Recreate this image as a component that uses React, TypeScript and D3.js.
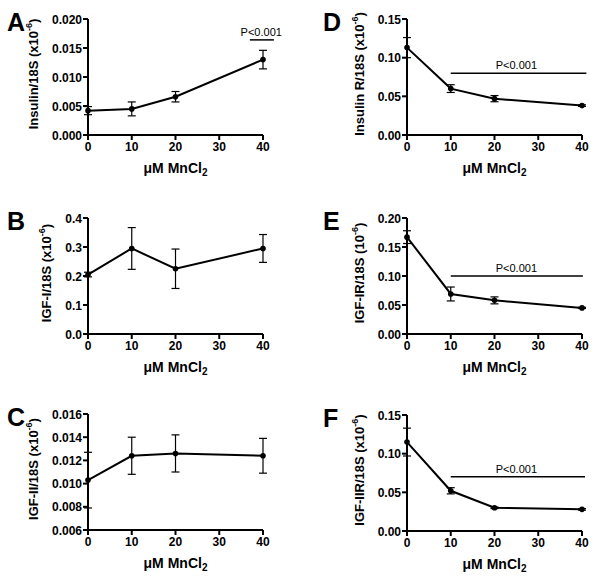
import React, { useEffect, useRef } from 'react';
import * as d3 from 'd3';

// MnCl2 doses (µM)
const doses = [0, 10, 20, 40];
const xTicks = [0, 10, 20, 30, 40];

const insulinMean = [0.0042, 0.0045, 0.0066, 0.013];
const insulinErr = [0.0007, 0.0012, 0.0009, 0.0016];
const igf1Mean = [0.205, 0.295, 0.225, 0.295];
const igf1Err = [0.008, 0.072, 0.068, 0.048];
const igf2Mean = [0.0103, 0.0124, 0.0126, 0.0124];
const igf2Err = [0.0024, 0.0016, 0.0016, 0.0015];
const insRMean = [0.113, 0.06, 0.047, 0.038];
const insRErr = [0.013, 0.005, 0.004, 0.001];
const igf1rMean = [0.167, 0.069, 0.058, 0.045];
const igf1rErr = [0.011, 0.012, 0.006, 0.001];
const igf2rMean = [0.115, 0.052, 0.03, 0.028];
const igf2rErr = [0.018, 0.004, 0.001, 0.001];

const panels = [
  { letter: 'A', label: 'Insulin/18S (x10', sup: '-6', close: ')', mean: insulinMean, err: insulinErr,
    ticks: [0, 0.005, 0.01, 0.015, 0.02], fmt: '.3f', sig: { from: 37, to: 42.5, y: 0.0164, textX: 39.6 },
    left: 88, top: 19 },
  { letter: 'B', label: 'IGF-I/18S (x10', sup: '-6', close: ')', mean: igf1Mean, err: igf1Err,
    ticks: [0, 0.1, 0.2, 0.3, 0.4], fmt: '.1f', sig: null, left: 88, top: 218 },
  { letter: 'C', label: 'IGF-II/18S (x10', sup: '-6', close: ')', mean: igf2Mean, err: igf2Err,
    ticks: [0.006, 0.008, 0.01, 0.012, 0.014, 0.016], fmt: '.3f', sig: null, left: 88, top: 414 },
  { letter: 'D', label: 'Insulin R/18S (x10', sup: '-6', close: ')', mean: insRMean, err: insRErr,
    ticks: [0, 0.05, 0.1, 0.15], fmt: '.2f', sig: { from: 10, to: 41, y: 0.08, textX: 25 },
    left: 407, top: 19 },
  { letter: 'E', label: 'IGF-IR/18S (10', sup: '-6', close: ')', mean: igf1rMean, err: igf1rErr,
    ticks: [0, 0.05, 0.1, 0.15, 0.2], fmt: '.2f', sig: { from: 10, to: 40.2, y: 0.1, textX: 25 },
    left: 407, top: 218 },
  { letter: 'F', label: 'IGF-IIR/18S (x10', sup: '-6', close: ')', mean: igf2rMean, err: igf2rErr,
    ticks: [0, 0.05, 0.1, 0.15], fmt: '.2f', sig: { from: 10, to: 40.7, y: 0.07, textX: 25 },
    left: 407, top: 415 },
];

const W = 175;
const H = 116;
const FONT = 'Liberation Sans, Arial, sans-serif';

const App = () => {
  const svgRef = useRef<SVGSVGElement>(null);

  useEffect(() => {
    const svg = d3.select(svgRef.current);
    svg.selectAll('*').remove();

    panels.forEach((p) => {
      const g = svg.append('g').attr('transform', `translate(${p.left},${p.top})`);
      const x = d3.scaleLinear().domain([0, 40]).range([0, W]);
      const y = d3.scaleLinear()
        .domain([p.ticks[0], p.ticks[p.ticks.length - 1]])
        .range([H, 0]);
      const fmt = d3.format(p.fmt);

      // axes
      g.append('line').attr('x1', 0).attr('x2', 0).attr('y1', 0).attr('y2', H)
        .attr('stroke', '#000').attr('stroke-width', 2);
      g.append('line').attr('x1', 0).attr('x2', W).attr('y1', H).attr('y2', H)
        .attr('stroke', '#000').attr('stroke-width', 2);

      p.ticks.forEach((t) => {
        g.append('line').attr('x1', -5).attr('x2', 0).attr('y1', y(t)).attr('y2', y(t))
          .attr('stroke', '#000').attr('stroke-width', 2);
        g.append('text').attr('x', -6).attr('y', y(t) + 4.5)
          .attr('text-anchor', 'end').attr('font-family', FONT).attr('font-weight', 'bold')
          .attr('font-size', 12).text(fmt(t));
      });
      xTicks.forEach((t) => {
        g.append('line').attr('x1', x(t)).attr('x2', x(t)).attr('y1', H).attr('y2', H + 5)
          .attr('stroke', '#000').attr('stroke-width', 2);
        g.append('text').attr('x', x(t)).attr('y', H + 16)
          .attr('text-anchor', 'middle').attr('font-family', FONT).attr('font-weight', 'bold')
          .attr('font-size', 12).text(t);
      });

      // x title
      const xt = g.append('text').attr('x', W / 2).attr('y', H + 38)
        .attr('text-anchor', 'middle').attr('font-family', FONT).attr('font-weight', 'bold')
        .attr('font-size', 14);
      xt.append('tspan').text('\u03bcM MnCl');
      xt.append('tspan').attr('font-size', 10).attr('dy', 3).text('2');

      // y title
      const tickW = d3.max(p.ticks, (t) => fmt(t).length * 6.67 - 3.3) as number;
      const labX = -6 - tickW - 14;
      const yt = g.append('text')
        .attr('transform', `translate(${labX},${H / 2 - 3}) rotate(-90)`)
        .attr('text-anchor', 'middle').attr('font-family', FONT).attr('font-weight', 'bold')
        .attr('font-size', 13);
      yt.append('tspan').text(p.label);
      yt.append('tspan').attr('font-size', 9).attr('dy', -6).text(p.sup);
      yt.append('tspan').attr('dy', 6).text(p.close);

      // panel letter
      svg.append('text').attr('x', p.left < 200 ? 7 : 323).attr('y', p.top + 12)
        .attr('font-family', FONT).attr('font-weight', 'bold').attr('font-size', 25)
        .text(p.letter);

      // significance bar
      if (p.sig) {
        g.append('line').attr('x1', x(p.sig.from)).attr('x2', x(p.sig.to))
          .attr('y1', y(p.sig.y)).attr('y2', y(p.sig.y))
          .attr('stroke', '#000').attr('stroke-width', 1.5);
        g.append('text').attr('x', x(p.sig.textX)).attr('y', y(p.sig.y) - 4)
          .attr('text-anchor', 'middle').attr('font-family', FONT).attr('font-size', 11)
          .text('P<0.001');
      }

      const pts = doses.map((d, i) => ({ d, m: p.mean[i], e: p.err[i] }));

      // error bars
      pts.forEach((pt) => {
        g.append('line').attr('x1', x(pt.d)).attr('x2', x(pt.d))
          .attr('y1', y(pt.m - pt.e)).attr('y2', y(pt.m + pt.e))
          .attr('stroke', '#000').attr('stroke-width', 1.2);
        [pt.m - pt.e, pt.m + pt.e].forEach((v) => {
          g.append('line').attr('x1', x(pt.d) - 4).attr('x2', x(pt.d) + 4)
            .attr('y1', y(v)).attr('y2', y(v))
            .attr('stroke', '#000').attr('stroke-width', 1.2);
        });
      });

      const line = d3.line<any>().x((pt) => x(pt.d)).y((pt) => y(pt.m));
      g.append('path').attr('d', line(pts)).attr('fill', 'none')
        .attr('stroke', '#000').attr('stroke-width', 2);

      g.selectAll('circle.pt').data(pts).enter().append('circle')
        .attr('cx', (pt) => x(pt.d)).attr('cy', (pt) => y(pt.m)).attr('r', 2.8)
        .attr('fill', '#000');
    });
  }, []);

  return (
    <svg ref={svgRef} width={600} height={580}
      style={{ position: 'absolute', left: 0, top: 0, background: '#fff' }} />
  );
};

export default App;
